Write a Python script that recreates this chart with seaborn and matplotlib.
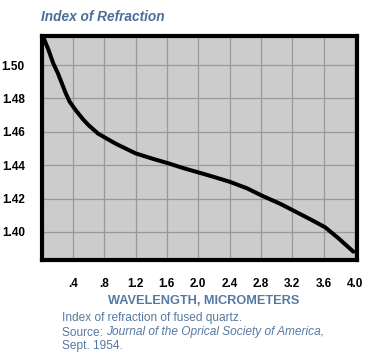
import numpy as np
import matplotlib.pyplot as plt
import seaborn as sns
import pandas as pd

# wavelength (micrometers) and refractive index
wavelength = [0.02, 0.09, 0.15, 0.21, 0.26, 0.31, 0.36, 0.42, 0.47, 0.53, 0.60, 0.66,
              0.72, 0.83, 0.95, 1.2, 1.43, 1.62, 1.80, 2.0, 2.19, 2.4, 2.62, 2.82,
              3.05, 3.24, 3.43, 3.62, 3.79, 3.98]
index = [1.517, 1.509, 1.501, 1.495, 1.489, 1.483, 1.478, 1.474, 1.471, 1.4675, 1.464, 1.4615,
         1.459, 1.456, 1.4528, 1.4471, 1.4437, 1.4411, 1.4384, 1.4357, 1.4331, 1.4301, 1.4262, 1.4216,
         1.4168, 1.4122, 1.4076, 1.4028, 1.3962, 1.3882]

xticks = [0.4, 0.8, 1.2, 1.6, 2.0, 2.4, 2.8, 3.2, 3.6, 4.0]
xlabels = ['.4', '.8', '1.2', '1.6', '2.0', '2.4', '2.8', '3.2', '3.6', '4.0']
yticks = [1.40, 1.42, 1.44, 1.46, 1.48, 1.50]
ylabels = ['1.40', '1.42', '1.44', '1.46', '1.48', '1.50']

df = pd.DataFrame({'wavelength': wavelength, 'index': index})

sns.set_style('white')
plt.rcParams['font.family'] = ['Liberation Sans', 'DejaVu Sans']

title_blue = '#4a6d99'
text_blue = '#5679a3'

fig = plt.figure(figsize=(3.75, 3.57), dpi=100)
ax = fig.add_axes([41.5 / 375, 97 / 357, 315 / 375, 224.5 / 357])
ax.set_facecolor('#cccccc')

sns.lineplot(data=df, x='wavelength', y='index', ax=ax, color='black',
             linewidth=2.9, solid_joinstyle='round', solid_capstyle='round', zorder=3)

ax.set_xlim(0, 4.02)
ax.set_ylim(1.3832, 1.5177)
ax.set_xticks(xticks)
ax.set_xticklabels(xlabels)
ax.set_yticks(yticks)
ax.set_yticklabels(ylabels)
ax.tick_params(axis='both', length=0, labelsize=8.5, labelcolor='black')
ax.tick_params(axis='x', pad=13)
ax.tick_params(axis='y', pad=12)
for lab in ax.get_xticklabels() + ax.get_yticklabels():
    lab.set_fontweight('bold')

ax.grid(True, color='#999999', linewidth=0.9)
ax.set_axisbelow(True)
for s in ax.spines.values():
    s.set_visible(True)
    s.set_color('black')
    s.set_linewidth(3)

ax.set_xlabel('')
ax.set_ylabel('')

fig.text(41 / 375, 1 - 17 / 357, 'Index of Refraction', color=title_blue,
         fontsize=9.8, fontweight='bold', fontstyle='italic', va='center', ha='left')
fig.text(204 / 375, 1 - 301 / 357, 'WAVELENGTH, MICROMETERS', color=text_blue,
         fontsize=9.2, fontweight='bold', va='center', ha='center')

cap_size = 8.6
fig.text(62 / 375, 1 - 318 / 357, 'Index of refraction of fused quartz.',
         color=text_blue, fontsize=cap_size, va='center', ha='left')
t = fig.text(62 / 375, 1 - 332.5 / 357, 'Source: ', color=text_blue, fontsize=cap_size,
             va='center', ha='left')
fig.canvas.draw()
bb = t.get_window_extent()
fig.text(bb.x1 / 375, 1 - 332.5 / 357, 'Journal of the Oprical Society of America,',
         color=text_blue, fontsize=cap_size, fontstyle='italic', va='center', ha='left')
fig.text(62 / 375, 1 - 346.5 / 357, 'Sept. 1954.', color=text_blue, fontsize=cap_size,
         va='center', ha='left')

fig.savefig('out.png', dpi=100)
plt.close(fig)
